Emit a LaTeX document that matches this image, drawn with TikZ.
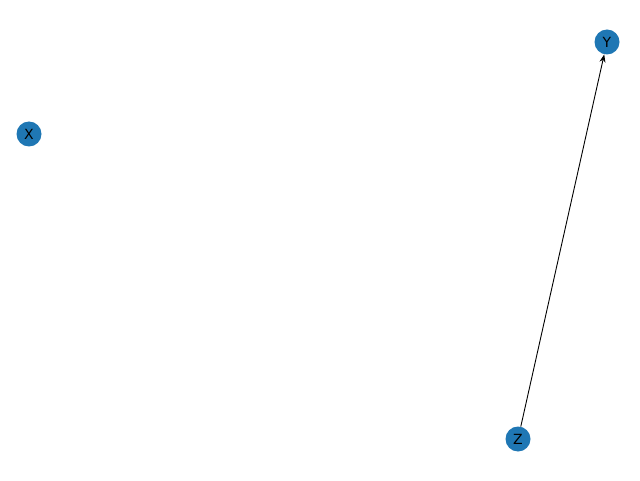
\documentclass[tikz,border=0pt]{standalone}
\usepackage{fontspec}
\setmainfont{DejaVu Sans}
\usetikzlibrary{arrows.meta}
\definecolor{nodeblue}{HTML}{1F77B4}
\tikzset{
  vertex/.style={circle, fill=nodeblue, draw=none, minimum size=25pt, inner sep=0pt, font=\fontsize{14pt}{14pt}\selectfont},
  edge/.style={draw=black, line width=0.9pt, -{Stealth[length=8pt,width=6pt]}}
}
\begin{document}
\begin{tikzpicture}[x=1pt,y=1pt]
\useasboundingbox (0,0) rectangle (640,480);
\node[vertex] (X) at (29,346) {X};
\node[vertex] (Y) at (607,438) {Y};
\node[vertex] (Z) at (518,41) {Z};
\draw[edge] (Z) -- (Y);
\end{tikzpicture}
\end{document}
